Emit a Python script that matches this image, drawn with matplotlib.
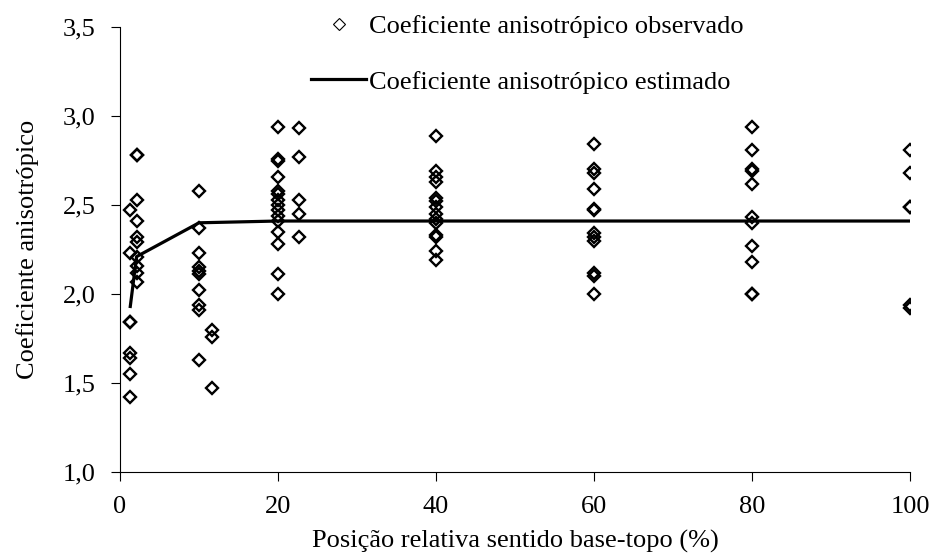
import matplotlib
matplotlib.use("Agg")
import matplotlib.pyplot as plt
from matplotlib.lines import Line2D
from matplotlib.ticker import FuncFormatter

plt.rcParams['font.family'] = 'Liberation Serif'
plt.rcParams['font.size'] = 19
plt.rcParams['text.color'] = 'black'

# observed coefficients, one list per sampling position (%)
positions = [1.3, 2.1, 10, 11.7, 20, 22.7, 40, 60, 80, 100]
obs_p1 = [2.47, 2.23, 1.84, 1.84, 1.67, 1.64, 1.55, 1.42]
obs_p2 = [2.78, 2.78, 2.53, 2.41, 2.32, 2.29, 2.21, 2.16, 2.12, 2.07]
obs_p10 = [2.58, 2.37, 2.23, 2.15, 2.13, 2.11, 2.02, 1.94, 1.91, 1.63]
obs_p12 = [1.80, 1.76, 1.47]
obs_p20 = [2.94, 2.76, 2.75, 2.66, 2.58, 2.56, 2.53, 2.50, 2.47, 2.44,
           2.41, 2.35, 2.28, 2.11, 2.00]
obs_p23 = [2.93, 2.77, 2.53, 2.45, 2.32]
obs_p40 = [2.89, 2.69, 2.66, 2.63, 2.54, 2.52, 2.49, 2.45, 2.42, 2.40,
           2.33, 2.32, 2.24, 2.19]
obs_p60 = [2.84, 2.70, 2.68, 2.59, 2.48, 2.47, 2.34, 2.32, 2.30, 2.12,
           2.10, 2.00]
obs_p80 = [2.94, 2.81, 2.70, 2.69, 2.62, 2.43, 2.40, 2.27, 2.18, 2.00, 2.00]
obs_p100 = [2.81, 2.68, 2.49, 2.49, 1.94, 1.92]
observed = [obs_p1, obs_p2, obs_p10, obs_p12, obs_p20, obs_p23,
            obs_p40, obs_p60, obs_p80, obs_p100]

# estimated curve
est_x = [1.3, 2.1, 10, 20, 40, 60, 80, 100]
est_y = [1.93, 2.21, 2.40, 2.41, 2.41, 2.41, 2.41, 2.41]

obs_x = [p for p, vals in zip(positions, observed) for _ in vals]
obs_y = [v for vals in observed for v in vals]

fig = plt.figure(figsize=(9.33, 5.53), dpi=100, facecolor='white')
ax = fig.add_axes([120 / 933, 1 - 472 / 553, 790 / 933, 445 / 553])

ax.plot(obs_x, obs_y, linestyle='none', marker='D', markersize=6.5,
        markerfacecolor='none', markeredgecolor='black', markeredgewidth=1.7)
ax.plot(est_x, est_y, color='black', linewidth=2.3)

ax.set_xlim(0, 100)
ax.set_ylim(1.0, 3.5)
ax.set_xticks([0, 20, 40, 60, 80, 100])
ax.set_yticks([1.0, 1.5, 2.0, 2.5, 3.0, 3.5])
ax.yaxis.set_major_formatter(FuncFormatter(lambda v, _: f"{v:.1f}".replace('.', ',')))
ax.tick_params(direction='out', length=6.5, width=0.8, colors='black', pad=11)

for spine in ['top', 'right']:
    ax.spines[spine].set_visible(False)
for spine in ['left', 'bottom']:
    ax.spines[spine].set_linewidth(0.8)

ax.set_xlabel("Posição relativa sentido base-topo (%)", labelpad=8)
ax.set_ylabel("Coeficiente anisotrópico", labelpad=17)

handles = [
    Line2D([], [], linestyle='none', marker='D', markersize=6,
           markerfacecolor='none', markeredgecolor='black', markeredgewidth=0.8),
    Line2D([], [], color='black', linewidth=2.3),
]
labels = ["Coeficiente anisotrópico observado", "Coeficiente anisotrópico estimado"]
fig.legend(handles, labels, loc='upper left', bbox_to_anchor=(311 / 933, 1 - 15 / 553),
           frameon=False, borderpad=0, borderaxespad=0, handlelength=2.1,
           handletextpad=0.1, labelspacing=1.2)

fig.savefig("out.png", dpi=100, facecolor='white')
